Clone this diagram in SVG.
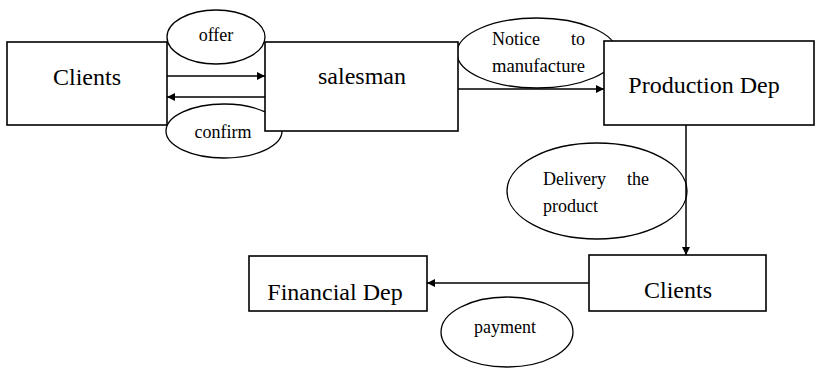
<svg xmlns="http://www.w3.org/2000/svg" width="819" height="375" viewBox="0 0 819 375">
  <style>
    .box { fill: #fff; stroke: #000; stroke-width: 1.6; }
    .oval { fill: #fff; stroke: #000; stroke-width: 1.3; }
    .big { font-family: "Liberation Serif", "Times New Roman", serif; font-size: 24px; fill: #000; }
    .small { font-family: "Liberation Serif", "Times New Roman", serif; font-size: 18px; fill: #000; }
    .link { stroke: #000; stroke-width: 1.5; fill: none; }
  </style>
  <defs>
    <marker id="head" viewBox="0 0 10 10" refX="10" refY="5" markerWidth="8" markerHeight="8" markerUnits="userSpaceOnUse" orient="auto">
      <path d="M0,0 L10,5 L0,10 Z" fill="#000"/>
    </marker>
  </defs>

  <rect width="819" height="375" fill="#fff"/>

  <!-- flow labels drawn under the boxes -->
  <g id="label-offer">
    <ellipse class="oval" cx="216" cy="37" rx="49" ry="27"/>
    <text class="small" x="216" y="41" text-anchor="middle">offer</text>
  </g>
  <g id="label-confirm">
    <ellipse class="oval" cx="224" cy="131" rx="58" ry="27"/>
    <text class="small" x="223" y="138" text-anchor="middle">confirm</text>
  </g>
  <g id="label-notice">
    <ellipse class="oval" cx="537" cy="53" rx="80" ry="35"/>
    <text class="small" x="492" y="45">Notice</text>
    <text class="small" x="585" y="45" text-anchor="end">to</text>
    <text class="small" x="492" y="72" textLength="93" lengthAdjust="spacingAndGlyphs">manufacture</text>
  </g>

  <g id="clients-top">
    <rect class="box" x="7" y="42" width="160" height="83"/>
    <text class="big" x="87" y="85" text-anchor="middle">Clients</text>
  </g>
  <g id="salesman">
    <rect class="box" x="265" y="42" width="193" height="89"/>
    <text class="big" x="362" y="84" text-anchor="middle">salesman</text>
  </g>
  <g id="production">
    <rect class="box" x="604" y="41" width="210" height="84"/>
    <text class="big" x="704" y="93" text-anchor="middle" font-size="26">Production Dep</text>
  </g>

  <g id="label-delivery">
    <ellipse class="oval" cx="597" cy="191" rx="90" ry="48"/>
    <text class="small" x="543" y="185">Delivery</text>
    <text class="small" x="649" y="185" text-anchor="end">the</text>
    <text class="small" x="543" y="212">product</text>
  </g>
  <g id="clients-bottom">
    <rect class="box" x="589" y="255" width="177" height="56"/>
    <text class="big" x="678" y="298" text-anchor="middle">Clients</text>
  </g>
  <g id="financial">
    <rect class="box" x="249" y="256" width="178" height="55"/>
    <text class="big" x="335" y="300" text-anchor="middle">Financial Dep</text>
  </g>
  <g id="label-payment">
    <ellipse class="oval" cx="507" cy="332" rx="66" ry="35"/>
    <text class="small" x="505" y="333" text-anchor="middle">payment</text>
  </g>

  <g id="connectors">
    <line class="link" x1="167" y1="76" x2="265" y2="76" marker-end="url(#head)"/>
    <line class="link" x1="265" y1="97" x2="167" y2="97" marker-end="url(#head)"/>
    <line class="link" x1="458" y1="89" x2="604" y2="89" marker-end="url(#head)"/>
    <line class="link" x1="686" y1="125" x2="686" y2="255" marker-end="url(#head)"/>
    <line class="link" x1="589" y1="283" x2="427" y2="283" marker-end="url(#head)"/>
  </g>
</svg>
